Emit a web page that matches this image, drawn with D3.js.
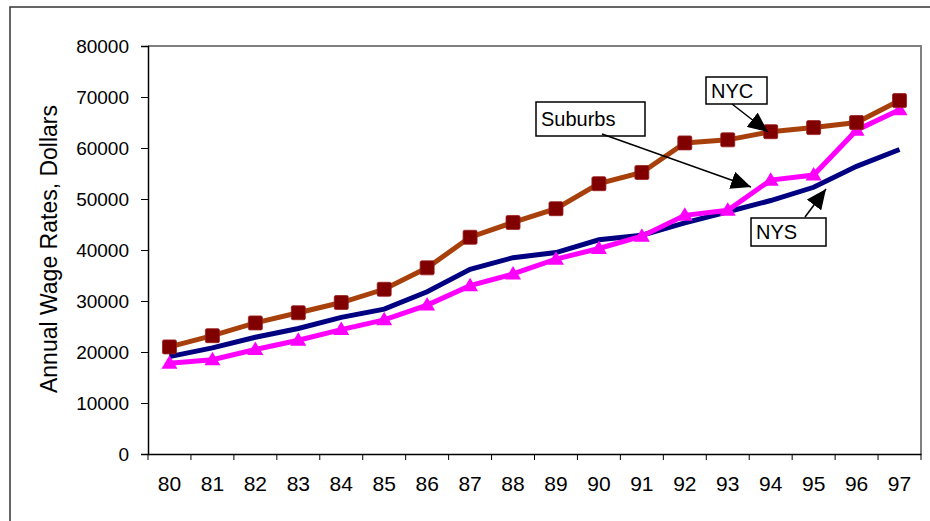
<!DOCTYPE html>
<html>
<head>
<meta charset="utf-8">
<script src="https://cdn.jsdelivr.net/npm/d3@7"></script>
<style>
  body { margin: 0; background: #fff; }
  svg { display: block; font-family: Arial, "Liberation Sans", sans-serif; }
</style>
</head>
<body>
<div id="chart"></div>
<script>
// data
var years = ['80', '81', '82', '83', '84', '85', '86', '87', '88', '89', '90', '91', '92', '93', '94', '95', '96', '97'];
var nyc = [21000, 23200, 25700, 27700, 29700, 32300, 36500, 42500, 45400, 48100, 53000, 55200, 61000, 61600, 63200, 64000, 65000, 69300];
var nys = [19100, 20800, 22900, 24600, 26800, 28400, 31800, 36200, 38500, 39500, 42000, 42900, 45300, 47500, 49700, 52300, 56400, 59700];
var suburbs = [17800, 18500, 20500, 22300, 24400, 26300, 29200, 33000, 35300, 38200, 40300, 42700, 46800, 47800, 53700, 54700, 63500, 67500];
var yTicks = [0, 10000, 20000, 30000, 40000, 50000, 60000, 70000, 80000];

var W = 930, H = 521;
var plotL = 148, plotR = 921, plotT = 46, plotB = 454;

var svg = d3.select('#chart').append('svg')
    .attr('width', W)
    .attr('height', H);

// outer frame
svg.append('rect')
    .attr('x', 10).attr('y', 7)
    .attr('width', 940).attr('height', 540)
    .attr('fill', 'none')
    .attr('stroke', '#333')
    .attr('stroke-width', 1.5);

var x = d3.scaleBand().domain(years).range([plotL, plotR]);
var y = d3.scaleLinear().domain([0, 80000]).range([plotB, plotT]);
var cx = (d) => x(d) + x.bandwidth() / 2;

// plot area border (grey top / right)
svg.append('path')
    .attr('d', `M${plotL},${plotT}H${plotR}V${plotB}`)
    .attr('fill', 'none')
    .attr('stroke', '#808080')
    .attr('stroke-width', 2);

// y axis
var yAxis = svg.append('g')
    .attr('transform', `translate(${plotL},0)`)
    .call(d3.axisLeft(y).tickValues(yTicks).tickSize(7).tickPadding(12).tickFormat(d3.format('d')));
yAxis.select('.domain').attr('stroke', '#000').attr('stroke-width', 1.5);
yAxis.selectAll('.tick line').attr('stroke', '#000');
yAxis.selectAll('text').attr('font-size', 19).attr('fill', '#000')
    .attr('font-family', 'Arial, "Liberation Sans", sans-serif');

// x axis, ticks between categories
var xAxis = svg.append('g')
    .attr('transform', `translate(0,${plotB})`)
    .call(d3.axisBottom(x).tickSize(0).tickPadding(22));
xAxis.select('.domain').attr('stroke', '#000').attr('stroke-width', 1.5);
xAxis.selectAll('text').attr('font-size', 21).attr('fill', '#000')
    .attr('font-family', 'Arial, "Liberation Sans", sans-serif');
xAxis.selectAll('.sep')
    .data(years.concat(['end']))
    .enter()
    .append('line')
        .attr('class', 'sep')
        .attr('x1', (d, i) => i < years.length ? x(d) : plotR)
        .attr('x2', (d, i) => i < years.length ? x(d) : plotR)
        .attr('y1', 0)
        .attr('y2', 6)
        .attr('stroke', '#000');

// y axis title
svg.append('text')
    .attr('transform', 'translate(57,249) rotate(-90)')
    .attr('text-anchor', 'middle')
    .attr('font-size', 23)
    .text('Annual Wage Rates, Dollars');

var line = d3.line()
    .x((d, i) => cx(years[i]))
    .y((d) => y(d));

// NYS
svg.append('path')
    .datum(nys)
    .attr('d', line)
    .attr('fill', 'none')
    .attr('stroke', '#000080')
    .attr('stroke-width', 5);

// Suburbs
svg.append('path')
    .datum(suburbs)
    .attr('d', line)
    .attr('fill', 'none')
    .attr('stroke', '#ff00ff')
    .attr('stroke-width', 5);

svg.append('g').selectAll('path')
    .data(suburbs)
    .enter()
    .append('path')
        .attr('transform', (d, i) => `translate(${cx(years[i])},${y(d)})`)
        .attr('d', 'M0,-8L8,5.5L-8,5.5Z')
        .attr('fill', '#ff00ff');

// NYC
svg.append('path')
    .datum(nyc)
    .attr('d', line)
    .attr('fill', 'none')
    .attr('stroke', '#a8400c')
    .attr('stroke-width', 5);

svg.append('g').selectAll('rect')
    .data(nyc)
    .enter()
    .append('rect')
        .attr('x', (d, i) => cx(years[i]) - 7)
        .attr('y', (d) => y(d) - 7)
        .attr('width', 14)
        .attr('height', 14)
        .attr('rx', 1.5)
        .attr('fill', '#800000')
        .attr('stroke', '#9a2020')
        .attr('stroke-width', 0.8);

// callouts
svg.append('defs').append('marker')
    .attr('id', 'head')
    .attr('viewBox', '0 0 20 18')
    .attr('refX', 20).attr('refY', 9)
    .attr('markerWidth', 20).attr('markerHeight', 18)
    .attr('markerUnits', 'userSpaceOnUse')
    .attr('orient', 'auto')
    .append('path')
        .attr('d', 'M0,0L20,9L0,18Z')
        .attr('fill', '#000');

var notes = [
    { label: 'NYC', bx: 706, by: 77, bw: 61, bh: 27, from: [732, 104], to: [768, 132] },
    { label: 'Suburbs', bx: 536, by: 102, bw: 109, bh: 34, from: [602, 134], to: [751, 187] },
    { label: 'NYS', bx: 751, by: 218, bw: 75, bh: 28, from: [805, 217], to: [826, 189] }
];

var g = svg.append('g').selectAll('g')
    .data(notes)
    .enter()
    .append('g');

g.append('rect')
    .attr('x', (d) => d.bx).attr('y', (d) => d.by)
    .attr('width', (d) => d.bw).attr('height', (d) => d.bh)
    .attr('fill', '#fff')
    .attr('stroke', '#000')
    .attr('stroke-width', 1.5);

g.append('text')
    .attr('x', (d) => d.bx + 5)
    .attr('y', (d) => d.by + d.bh / 2 + 7)
    .attr('font-size', 20)
    .text((d) => d.label);

g.append('line')
    .attr('x1', (d) => d.from[0]).attr('y1', (d) => d.from[1])
    .attr('x2', (d) => d.to[0]).attr('y2', (d) => d.to[1])
    .attr('stroke', '#000')
    .attr('stroke-width', 1.5)
    .attr('marker-end', 'url(#head)');
</script>
</body>
</html>
